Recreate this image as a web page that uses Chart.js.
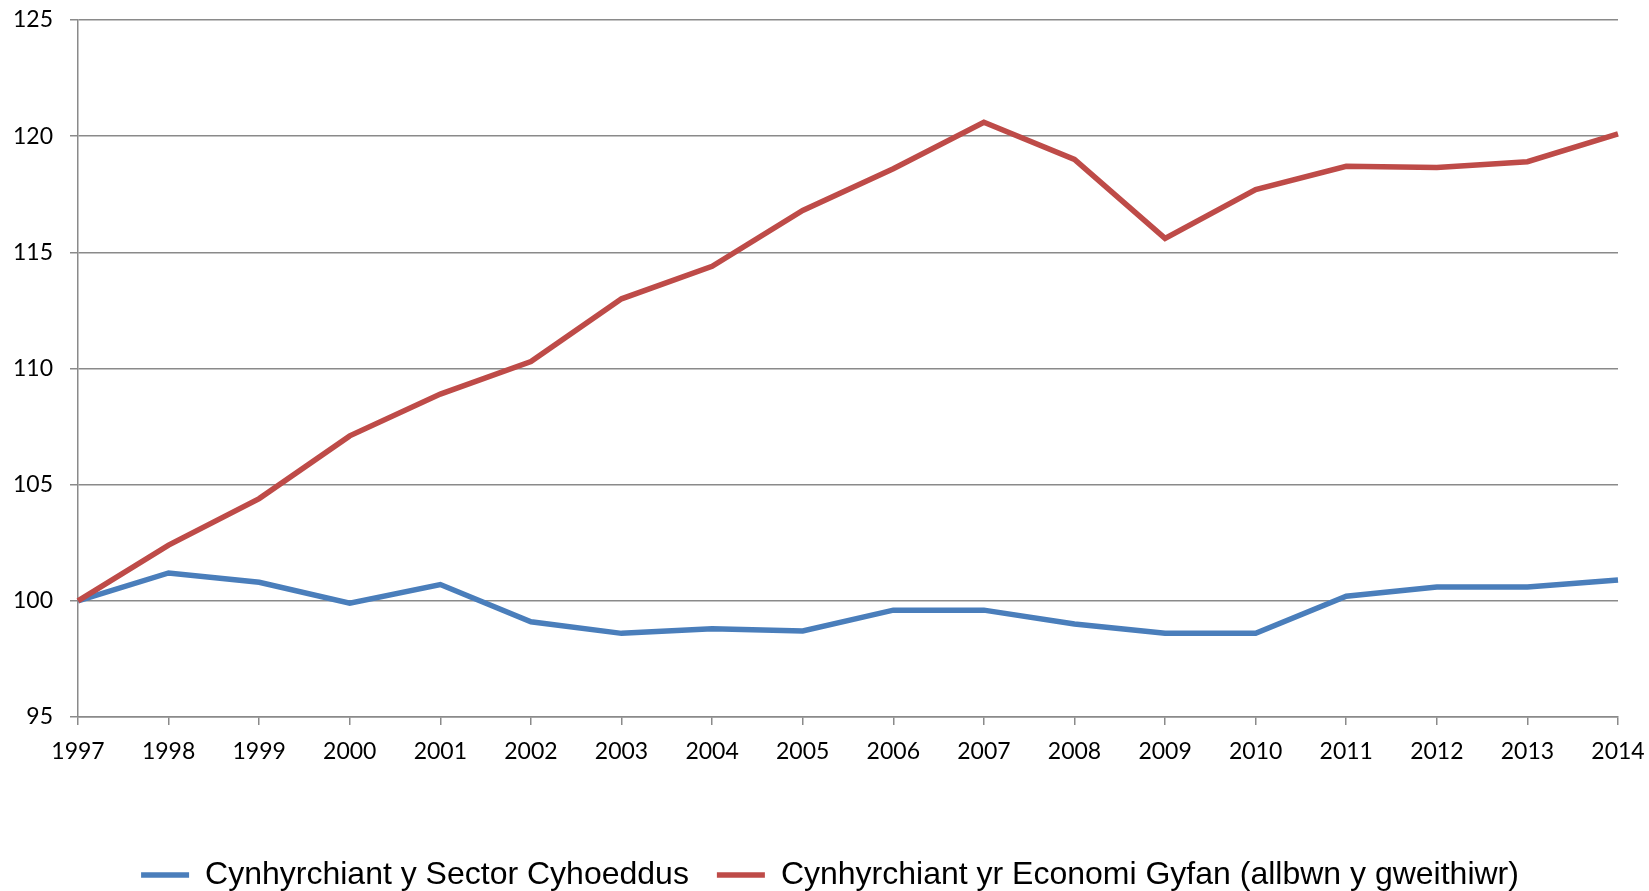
<!DOCTYPE html>
<html>
<head>
<meta charset="utf-8">
<script src="https://cdn.jsdelivr.net/npm/chart.js@4/dist/chart.umd.min.js"></script>
<style>
  html, body { margin: 0; padding: 0; background: #fff; }
  #wrap { width: 1649px; height: 891px; }
</style>
</head>
<body>
<div id="wrap"><canvas id="chart" width="1649" height="891"></canvas></div>
<script>
const years = ["1997", "1998", "1999", "2000", "2001", "2002", "2003", "2004", "2005",
  "2006", "2007", "2008", "2009", "2010", "2011", "2012", "2013", "2014"];
const publicSector = [100, 101.2, 100.8, 99.9, 100.7, 99.1, 98.6, 98.8, 98.7,
  99.6, 99.6, 99.0, 98.6, 98.6, 100.2, 100.6, 100.6, 100.9];
const wholeEconomy = [100, 102.4, 104.4, 107.1, 108.9, 110.3, 113.0, 114.4, 116.8,
  118.6, 120.6, 119.0, 115.6, 117.7, 118.7, 118.65, 118.9, 120.1];
const seriesNames = ["Cynhyrchiant y Sector Cyhoeddus", "Cynhyrchiant yr Economi Gyfan (allbwn y gweithiwr)"];

const gridGrey = "#8a8a8a";

new Chart(document.getElementById("chart"), {
  type: "line",
  data: {
    labels: years,
    datasets: [
      {
        label: seriesNames[0],
        data: publicSector,
        borderColor: "#4a7ebb",
        backgroundColor: "#4a7ebb",
        borderWidth: 5.5,
        pointRadius: 0,
        pointStyle: "line",
        tension: 0,
        order: 1,
      },
      {
        label: seriesNames[1],
        data: wholeEconomy,
        borderColor: "#be4b48",
        backgroundColor: "#be4b48",
        borderWidth: 5.5,
        pointRadius: 0,
        pointStyle: "line",
        tension: 0,
        order: 0,
      },
    ],
  },
  options: {
    responsive: false,
    animation: false,
    // left padding only nudges the legend right; the y axis width makes up for it
    layout: { padding: { top: 20, right: 0, left: 11, bottom: -10 } },
    plugins: {
      tooltip: { enabled: false },
      legend: {
        position: "bottom",
        labels: {
          usePointStyle: true,
          pointStyleWidth: 48,
          padding: 28,
          color: "#000",
          font: { family: "'Liberation Sans', Arial, sans-serif", size: 32 },
          sort: (a, b) => a.datasetIndex - b.datasetIndex,
        },
      },
    },
    scales: {
      x: {
        grid: { drawOnChartArea: false, drawTicks: true, tickLength: 8, color: gridGrey, lineWidth: 1.5 },
        border: { color: gridGrey, width: 1.5 },
        ticks: {
          color: "#000",
          padding: 13,
          maxRotation: 0,
          autoSkip: false,
          font: { family: "Lato, sans-serif", size: 23 },
        },
        afterFit: (scale) => {
          scale.height = 114;
          scale.paddingLeft = 0;
          scale.paddingRight = 31;
        },
      },
      y: {
        min: 95,
        max: 125,
        grid: { color: gridGrey, lineWidth: 1.5, tickLength: 8 },
        border: { color: gridGrey, width: 1.5 },
        ticks: {
          stepSize: 5,
          color: "#000",
          padding: 17,
          font: { family: "Lato, sans-serif", size: 23 },
        },
        afterFit: (scale) => {
          scale.width = 67;
          scale.paddingTop = 0;
          scale.paddingBottom = 0;
        },
      },
    },
  },
});
</script>
</body>
</html>
